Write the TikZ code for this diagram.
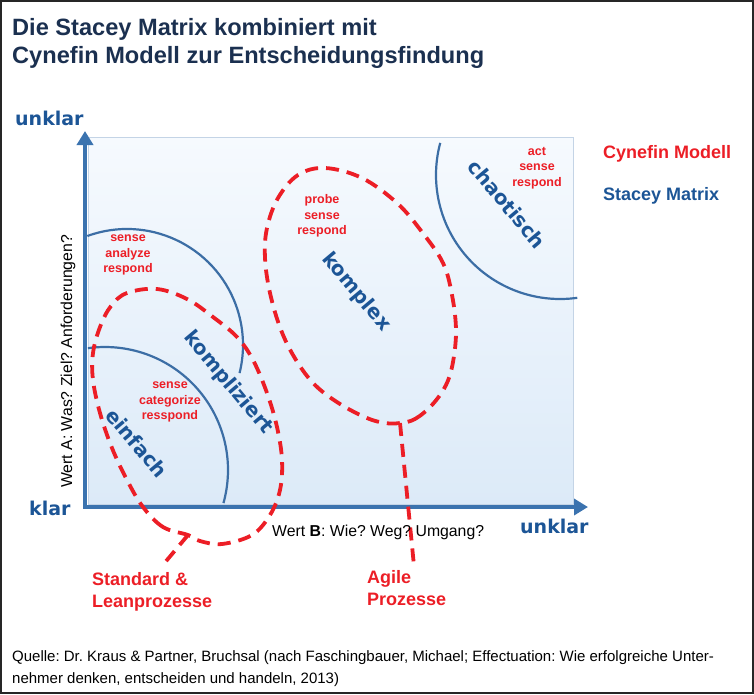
\documentclass[tikz,border=0pt]{standalone}
\usepackage{fontspec}
\setmainfont{Liberation Sans}
\newfontfamily\domainfont{DejaVu Sans}
\usetikzlibrary{arrows.meta}
\frenchspacing

\definecolor{titleblue}{RGB}{27,48,80}
\definecolor{labelblue}{RGB}{28,85,150}
\definecolor{axisblue}{RGB}{59,115,175}
\definecolor{arcblue}{RGB}{60,110,165}
\definecolor{cynred}{RGB}{236,30,38}
\definecolor{fieldtop}{RGB}{246,250,254}
\definecolor{fieldbottom}{RGB}{220,234,248}
\definecolor{fieldline}{RGB}{196,212,230}

\tikzset{
  axisline/.style={draw=axisblue, line width=4.6pt,
    {Triangle[length=14pt,width=16pt]}-{Triangle[length=14pt,width=16pt]}},
  stacey/.style={draw=arcblue, line width=2.2pt},
  cynefin/.style={draw=cynred, line width=3.8pt, dash pattern=on 13pt off 8pt},
  zonelabel/.style={font=\domainfont\bfseries\fontsize{20}{24}\selectfont,
    text=labelblue, rotate=-50, inner sep=0pt},
  actionlabel/.style={font=\bfseries\fontsize{12.5}{15.5}\selectfont,
    text=cynred, align=center, inner sep=0pt},
  endlabel/.style={font=\domainfont\bfseries\fontsize{19}{22}\selectfont,
    text=labelblue, inner sep=0pt, anchor=base west},
  proclabel/.style={font=\bfseries\fontsize{18}{22.5}\selectfont,
    text=cynred, align=left, inner sep=0pt, anchor=north west}
}

\begin{document}
\begin{tikzpicture}[x=1pt,y=1pt]
\useasboundingbox (0,0) rectangle (754,-694);

% Frame
\draw[line width=2pt, draw=black!85] (1,-1) rectangle (753,-693);

% Title
\node[anchor=base west, inner sep=0pt, text=titleblue,
    font=\bfseries\fontsize{23.6}{28}\selectfont]
    (title-1) at (12,-35) {Die Stacey Matrix kombiniert mit};
\node[anchor=base west, inner sep=0pt, text=titleblue,
    font=\bfseries\fontsize{23.6}{28}\selectfont]
    (title-2) at (12,-63) {Cynefin Modell zur Entscheidungsfindung};

% Field
\shade[top color=fieldtop, bottom color=fieldbottom] (88,-137) rectangle (573,-504);
\draw[fieldline, line width=0.8pt] (88,-137) rectangle (573,-504);

% Stacey Matrix arcs
\draw[stacey] ([shift={(98:123)}]105,-470) arc[start angle=98, end angle=-15.6, radius=123];
\draw[stacey] ([shift={(110:116)}]127,-345) arc[start angle=110, end angle=-14, radius=116];
\draw[stacey] ([shift={(165:124)}]560,-175) arc[start angle=165, end angle=278, radius=124];

% Axes
\coordinate (origin) at (85,-507);
\coordinate (ytip) at (85,-131);
\coordinate (xtip) at (588,-507);
\draw[axisline] (ytip) -- (origin) -- (xtip);

% Cynefin regions
\coordinate (lean-tip) at (188,-535);
\coordinate (lean-end) at (162,-566);
\draw[cynefin] plot[smooth cycle, tension=0.6] coordinates {
  (lean-tip) (163,-527) (143,-507) (127,-480) (112,-448) (100,-413)
  (93,-380) (93,-353) (100,-327) (111,-306) (127,-293) (157,-289)
  (187,-299) (213,-317) (237,-337) (253,-360) (267,-393) (277,-427)
  (282,-460) (280,-490) (270,-515) (252,-535) (222,-544) (200,-541)};
\draw[cynefin] (lean-tip) -- (lean-end);

\coordinate (agile-tip) at (400,-423);
\coordinate (agile-end) at (414,-566);
\draw[cynefin] plot[smooth cycle, tension=0.6] coordinates {
  (agile-tip) (415,-419) (432,-405) (446,-385) (453,-362) (456,-330)
  (452,-295) (443,-263) (422,-232) (397,-203) (362,-178) (325,-168)
  (298,-175) (278,-198) (267,-228) (265,-258) (270,-293) (281,-330)
  (296,-360) (315,-385) (340,-404) (367,-418) (385,-423)};
\draw[cynefin] (agile-tip) -- (agile-end);

% Domain labels
\node[zonelabel] (einfach) at (137,-443) {einfach};
\node[zonelabel] (kompliziert) at (228,-383) {kompliziert};
\node[zonelabel] (komplex) at (356,-292) {komplex};
\node[zonelabel] (chaotisch) at (507,-204) {chaotisch};

% Action labels
\node[actionlabel] (act-simple) at (170,-402) {sense\\categorize\\resspond};
\node[actionlabel] (act-complicated) at (128,-255) {sense\\analyze\\respond};
\node[actionlabel] (act-complex) at (322,-216) {probe\\sense\\respond};
\node[actionlabel] (act-chaotic) at (537,-168) {act\\sense\\respond};

% Axis labels
\node[endlabel] (y-high) at (15,-125) {unklar};
\node[endlabel] (low) at (29,-515) {klar};
\node[endlabel] (x-high) at (520,-533) {unklar};
\node[anchor=base west, inner sep=0pt, font=\fontsize{15.8}{18}\selectfont]
    (x-label) at (272,-536) {Wert \textbf{B}: Wie? Weg? Umgang?};
\node[anchor=base west, inner sep=0pt, rotate=90, font=\fontsize{15.8}{18}\selectfont]
    (y-label) at (72,-488) {Wert A: Was? Ziel? Anforderungen?};

% Legend
\node[anchor=base west, inner sep=0pt, text=cynred, font=\bfseries\fontsize{18}{22}\selectfont]
    (legend-cynefin) at (603,-158) {Cynefin Modell};
\node[anchor=base west, inner sep=0pt, text=labelblue, font=\bfseries\fontsize{18}{22}\selectfont]
    (legend-stacey) at (603,-200) {Stacey Matrix};

% Processes
\node[proclabel] (lean) at (92,-572) {Standard \&\\Leanprozesse};
\node[proclabel] (agile) at (367,-570) {Agile\\Prozesse};

% Source
\node[anchor=base west, inner sep=0pt, align=left, font=\fontsize{15}{22}\selectfont]
    (source) at (12,-683) {Quelle: Dr. Kraus \& Partner, Bruchsal (nach Faschingbauer, Michael; Effectuation: Wie erfolgreiche Unter-\\nehmer denken, entscheiden und handeln, 2013)};

\end{tikzpicture}
\end{document}
